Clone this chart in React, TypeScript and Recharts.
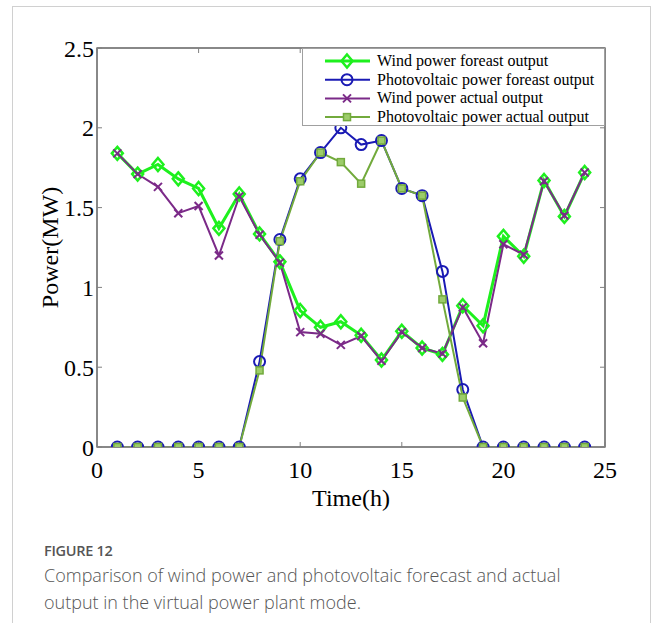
import React from 'react';
import { LineChart, Line, XAxis, YAxis, Legend, Label, ReferenceArea } from 'recharts';

const hours = [1, 2, 3, 4, 5, 6, 7, 8, 9, 10, 11, 12, 13, 14, 15, 16, 17, 18, 19, 20, 21, 22, 23, 24];
const windForecast = [1.84, 1.71, 1.77, 1.68, 1.62, 1.37, 1.585, 1.335, 1.16, 0.855, 0.75, 0.785, 0.7, 0.545, 0.725, 0.62, 0.58, 0.885, 0.76, 1.32, 1.195, 1.67, 1.445, 1.72];
const pvForecast = [0, 0, 0, 0, 0, 0, 0, 0.535, 1.3, 1.68, 1.845, 2.0, 1.895, 1.92, 1.62, 1.575, 1.1, 0.36, 0, 0, 0, 0, 0, 0];
const windActual = [1.84, 1.71, 1.63, 1.465, 1.51, 1.2, 1.57, 1.33, 1.155, 0.72, 0.71, 0.64, 0.695, 0.54, 0.72, 0.62, 0.585, 0.875, 0.65, 1.27, 1.205, 1.665, 1.45, 1.72];
const pvActual = [0, 0, 0, 0, 0, 0, 0, 0.48, 1.29, 1.665, 1.845, 1.785, 1.65, 1.92, 1.62, 1.575, 0.925, 0.31, 0, 0, 0, 0, 0, 0];

const xTicks = [0, 5, 10, 15, 20, 25];
const yTicks = [0, 0.5, 1, 1.5, 2, 2.5];
const seriesNames = [
  'Wind power foreast output',
  'Photovoltaic power foreast output',
  'Wind power actual output',
  'Photovoltaic power actual output',
];
const captionTitle = 'FIGURE 12';
const captionLines = [
  'Comparison of wind power and photovoltaic forecast and actual',
  'output in the virtual power plant mode.',
];

const data = hours.map((h, i) => ({
  hour: h,
  wf: windForecast[i],
  pf: pvForecast[i],
  wa: windActual[i],
  pa: pvActual[i],
}));

const C_WF = '#1ef01e';
const C_PF = '#1a1ab4';
const C_WA = '#7b2a88';
const C_PA = '#72aa3c';
const SERIF = '"Liberation Serif", "Times New Roman", serif';
const AXIS = '#808080';

function Diamond({ cx, cy }: any) {
  return (
    <polygon
      points={`${cx},${cy - 6.5} ${cx + 5.5},${cy} ${cx},${cy + 6.5} ${cx - 5.5},${cy}`}
      fill="none"
      stroke={C_WF}
      strokeWidth={2.5}
    />
  );
}
function Circ({ cx, cy }: any) {
  return <circle cx={cx} cy={cy} r={5.5} fill="none" stroke={C_PF} strokeWidth={2} />;
}
function Cross({ cx, cy }: any) {
  const s = 4;
  return (
    <g stroke={C_WA} strokeWidth={2}>
      <line x1={cx - s} y1={cy - s} x2={cx + s} y2={cy + s} />
      <line x1={cx - s} y1={cy + s} x2={cx + s} y2={cy - s} />
    </g>
  );
}
function Sq({ cx, cy }: any) {
  return <rect x={cx - 3.5} y={cy - 3.5} width={7} height={7} fill="#9ccc6a" stroke={C_PA} strokeWidth={1.5} />;
}

const markers = [Diamond, Circ, Cross, Sq];
const colors = [C_WF, C_PF, C_WA, C_PA];
const widths = [3, 2, 2, 2];

function LegendBox() {
  return (
    <svg width={303} height={78} style={{ display: 'block' }}>
      <rect x={0.5} y={0.5} width={302} height={77} fill="#fff" stroke="#a0a0a0" strokeWidth={1} />
      {seriesNames.map((n, i) => {
        const cy = 13 + i * 18.7;
        const M = markers[i];
        return (
          <g key={n}>
            <line x1={23} x2={68} y1={cy} y2={cy} stroke={colors[i]} strokeWidth={widths[i]} />
            <M cx={45} cy={cy} />
            <text x={75} y={cy + 5} fontSize={16} fontFamily={SERIF} fill="#000">
              {n}
            </text>
          </g>
        );
      })}
    </svg>
  );
}

function YLabel(props: any) {
  const vb = props.viewBox || { x: 20, y: 48, height: 399 };
  const cx = 50;
  const cy = vb.y + vb.height / 2;
  return (
    <text
      x={cx}
      y={cy}
      transform={`rotate(-90 ${cx} ${cy})`}
      textAnchor="middle"
      dominantBaseline="central"
      fontSize={24}
      fontFamily={SERIF}
      fill="#000"
    >
      Power(MW)
    </text>
  );
}

export default function App() {
  const tickStyle = { fill: '#000', fontSize: 24, fontFamily: SERIF };
  return (
    <div style={{ position: 'absolute', left: 0, top: 0, width: 654, height: 623, overflow: 'hidden', background: '#fff' }}>
      <div
        style={{
          position: 'absolute',
          left: 12,
          top: 6,
          width: 639,
          height: 700,
          border: '1px solid #d0d0d0',
          boxSizing: 'border-box',
        }}
      />
      <div style={{ position: 'absolute', left: 0, top: 0 }}>
        <LineChart width={654} height={623} data={data} margin={{ top: 47, right: 48, bottom: 116, left: 20 }}>
          <ReferenceArea
            x1={0}
            x2={25}
            y1={0}
            y2={2.5}
            fill="none"
            fillOpacity={0}
            stroke={AXIS}
            strokeWidth={1.5}
            ifOverflow="visible"
          />
          <XAxis
            dataKey="hour"
            type="number"
            domain={[0, 25]}
            ticks={xTicks}
            interval={0}
            allowDataOverflow
            height={60}
            tickSize={-5}
            tickMargin={19}
            axisLine={{ stroke: AXIS, strokeWidth: 1.5 }}
            tickLine={{ stroke: AXIS }}
            tick={tickStyle}
          >
            <Label value="Time(h)" position="insideBottom" offset={1} style={{ fontSize: 24, fontFamily: SERIF, fill: '#000' }} />
          </XAxis>
          <XAxis
            xAxisId="top"
            dataKey="hour"
            orientation="top"
            type="number"
            domain={[0, 25]}
            ticks={xTicks}
            interval={0}
            allowDataOverflow
            height={1}
            tickSize={-5}
            axisLine={{ stroke: AXIS, strokeWidth: 1.5 }}
            tickLine={{ stroke: AXIS }}
            tick={() => <g />}
          />
          <YAxis
            type="number"
            domain={[0, 2.5]}
            ticks={yTicks}
            interval={0}
            allowDataOverflow
            width={77}
            tickSize={-5}
            tickMargin={8}
            axisLine={{ stroke: AXIS, strokeWidth: 1.5 }}
            tickLine={{ stroke: AXIS }}
            tick={tickStyle}
          >
            <Label content={<YLabel />} />
          </YAxis>
          <YAxis
            yAxisId="right"
            orientation="right"
            type="number"
            domain={[0, 2.5]}
            ticks={yTicks}
            interval={0}
            allowDataOverflow
            width={1}
            tickSize={-5}
            axisLine={{ stroke: AXIS, strokeWidth: 1.5 }}
            tickLine={{ stroke: AXIS }}
            tick={() => <g />}
          />
          <Line
            xAxisId="top"
            yAxisId="right"
            dataKey="wf"
            type="linear"
            stroke="none"
            dot={false}
            activeDot={false}
            legendType="none"
            isAnimationActive={false}
          />
          <Line
            dataKey="wf"
            name={seriesNames[0]}
            type="linear"
            stroke={C_WF}
            strokeWidth={3}
            isAnimationActive={false}
            activeDot={false}
            dot={(p: any) => <Diamond key={`wf${p.index}`} cx={p.cx} cy={p.cy} />}
          />
          <Line
            dataKey="pf"
            name={seriesNames[1]}
            type="linear"
            stroke={C_PF}
            strokeWidth={2}
            isAnimationActive={false}
            activeDot={false}
            dot={(p: any) => <Circ key={`pf${p.index}`} cx={p.cx} cy={p.cy} />}
          />
          <Line
            dataKey="wa"
            name={seriesNames[2]}
            type="linear"
            stroke={C_WA}
            strokeWidth={2}
            isAnimationActive={false}
            activeDot={false}
            dot={(p: any) => <Cross key={`wa${p.index}`} cx={p.cx} cy={p.cy} />}
          />
          <Line
            dataKey="pa"
            name={seriesNames[3]}
            type="linear"
            stroke={C_PA}
            strokeWidth={2}
            isAnimationActive={false}
            activeDot={false}
            dot={(p: any) => <Sq key={`pa${p.index}`} cx={p.cx} cy={p.cy} />}
          />
          <Legend
            layout="vertical"
            align="center"
            verticalAlign="middle"
            wrapperStyle={{ position: 'absolute', left: 302, top: 48, width: 303, height: 78, margin: 0, padding: 0 }}
            content={() => <LegendBox />}
          />
        </LineChart>
      </div>
      <div
        style={{
          position: 'absolute',
          left: 44,
          top: 541,
          fontFamily: '"Open Sans", sans-serif',
          fontWeight: 600,
          fontSize: 14.5,
          color: '#555',
          lineHeight: '20px',
          letterSpacing: '-0.3px',
        }}
      >
        {captionTitle}
      </div>
      <div
        style={{
          position: 'absolute',
          left: 44,
          top: 562,
          fontFamily: '"Open Sans", sans-serif',
          fontWeight: 300,
          fontSize: 18,
          color: '#555',
          lineHeight: '27px',
          whiteSpace: 'nowrap',
        }}
      >
        {captionLines.map((l) => (
          <div key={l}>{l}</div>
        ))}
      </div>
    </div>
  );
}
